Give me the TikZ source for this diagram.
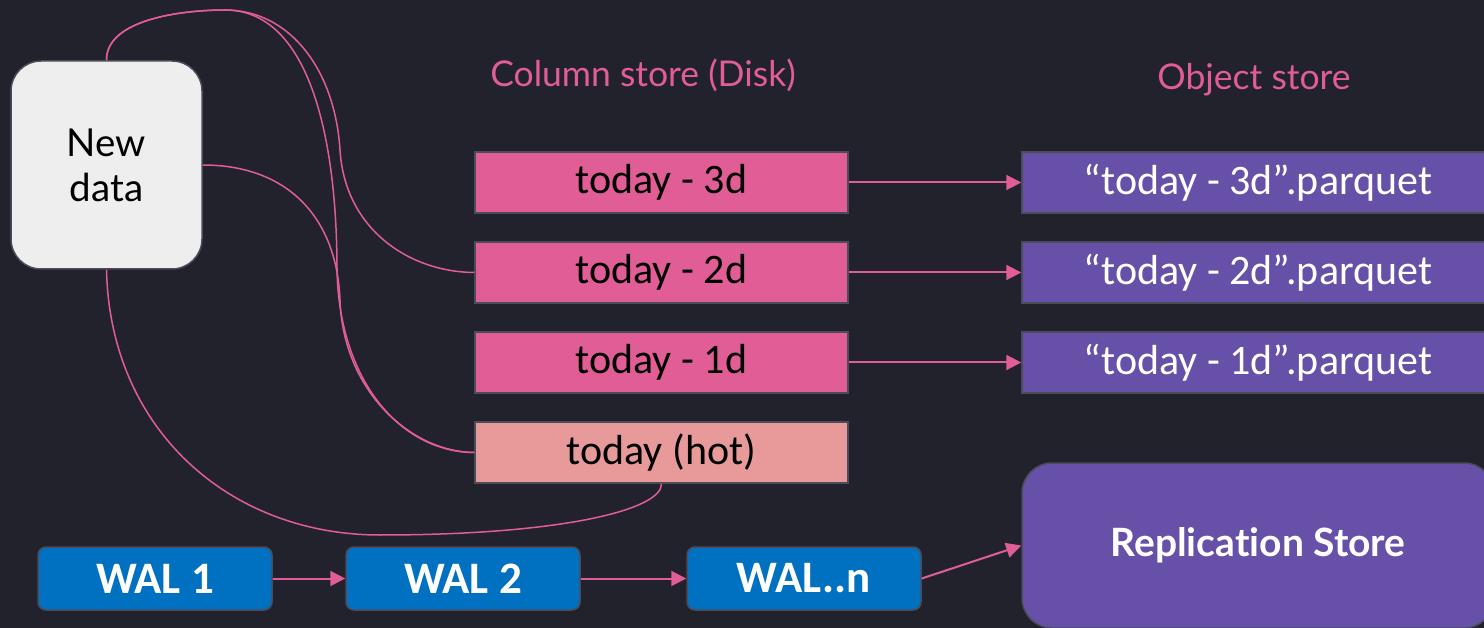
\documentclass[tikz,border=0pt]{standalone}
\usepackage{fontspec}
\setmainfont{Carlito}
\newfontfamily\labfont[Ligatures=NoCommon]{Lato}
\usetikzlibrary{arrows.meta}
\definecolor{bgc}{HTML}{21222C}
\definecolor{pinkc}{HTML}{E05D95}
\definecolor{hotc}{HTML}{E89A9A}
\definecolor{purc}{HTML}{6750A7}
\definecolor{bluec}{HTML}{0070C0}
\definecolor{edgec}{HTML}{4B4B5A}
\definecolor{ndc}{HTML}{EEEEEE}
\tikzset{
  colbox/.style={draw=edgec, line width=1.5pt, fill=pinkc, minimum width=373pt, minimum height=61pt, inner sep=0pt, font=\fontsize{42}{44}\selectfont, text=black},
  objbox/.style={draw=edgec, line width=1.5pt, fill=purc, minimum width=472pt, minimum height=61pt, inner sep=0pt, font=\fontsize{42}{44}\selectfont, text=white},
  walbox/.style={draw=edgec, line width=1.5pt, fill=bluec, rounded corners=8pt, minimum width=234pt, minimum height=63pt, inner sep=0pt, font=\fontsize{45}{47}\selectfont\bfseries, text=white},
  conn/.style={draw=pinkc, line width=1.5pt},
  arr/.style={draw=pinkc, line width=2pt, -{Triangle[length=15pt,width=15pt]}},
  lab/.style={font=\labfont\fontsize{35.5}{38}\selectfont, text=pinkc}
}
\begin{document}
\begin{tikzpicture}[x=1pt,y=-1pt]
\useasboundingbox (0,0) rectangle (1484,628);
\fill[bgc] (0,0) rectangle (1484,628);

\node[draw=edgec, line width=1.5pt, fill=ndc, rounded corners=30pt, minimum width=191pt, minimum height=208pt, inner sep=0pt, align=center, font=\labfont\fontsize{38.5}{45}\selectfont, text=black] (nd) at (106.5,165) {New\\data};

\node[lab] (cslab) at (643,75) {Column store (Disk)};
\node[lab] (oslab) at (1254,80) {Object store};

\node[colbox] (d3) at (661.5,182.5) {today - 3d};
\node[colbox] (d2) at (661.5,272.5) {today - 2d};
\node[colbox] (d1) at (661.5,362.5) {today - 1d};
\node[colbox, fill=hotc] (hot) at (661.5,452.5) {today (hot)};

\node[objbox] (p3) at (1258,182.5) {“today - 3d”.parquet};
\node[objbox] (p2) at (1258,272.5) {“today - 2d”.parquet};
\node[objbox] (p1) at (1258,362.5) {“today - 1d”.parquet};

\node[draw=edgec, line width=1.5pt, fill=purc, rounded corners=30pt, minimum width=472pt, minimum height=165pt, inner sep=0pt, font=\labfont\fontsize{39}{41}\selectfont\bfseries, text=white] (rep) at (1258,545.5) {Replication Store};

\node[walbox] (w1) at (155,578.5) {WAL 1};
\node[walbox] (w2) at (463,578.5) {WAL 2};
\node[walbox] (wn) at (804,578.5) {WAL..n};

\draw[arr] (d3.east) -- (p3.west);
\draw[arr] (d2.east) -- (p2.west);
\draw[arr] (d1.east) -- (p1.west);
\draw[arr] (w1.east) -- (w2.west);
\draw[arr] (w2.east) -- (wn.west);
\draw[arr] (wn.east) -- (rep.west);

\draw[conn] (nd.north) .. controls (106,20) and (180,10) .. (225,10) .. controls (290,10) and (335,70) .. (340,150) .. controls (345,230) and (410,272) .. (d2.west);
\draw[conn] (nd.north) .. controls (106,20) and (180,10) .. (225,10) .. controls (310,10) and (337,140) .. (337,270) .. controls (339,380) and (400,452) .. (hot.west);
\draw[conn] (nd.east) .. controls (290,165) and (337,220) .. (340,300) .. controls (343,390) and (410,452) .. (hot.west);
\draw[conn] (nd.south) .. controls (110,430) and (230,535) .. (380,535) .. controls (560,535) and (662,510) .. (hot.south);
\end{tikzpicture}
\end{document}
